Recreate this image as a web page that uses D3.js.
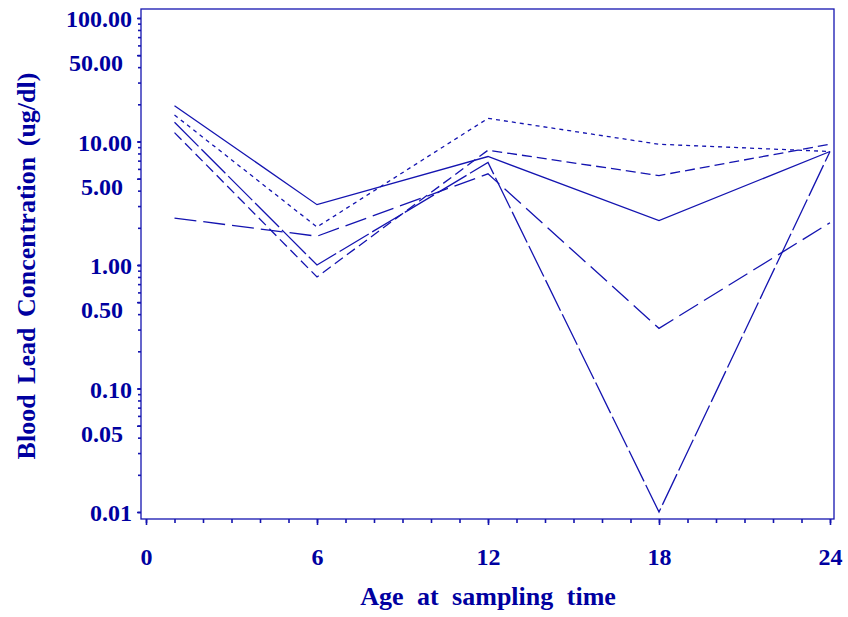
<!DOCTYPE html>
<html>
<head>
<meta charset="utf-8">
<script src="https://cdn.jsdelivr.net/npm/d3@7"></script>
<style>
  body { margin: 0; background: #fff; }
  text { font-family: 'Liberation Serif', serif; font-weight: bold; fill: #0000a0; }
</style>
</head>
<body>
<div id="chart"></div>
<script>
// Sampling ages (months) and blood lead values per child
const ages = [ 1, 6, 12, 18, 24 ];
const lead1 = [ 19.5, 3.08, 7.56, 2.29, 8.3 ];
const lead2 = [ 16.4, 2.03, 15.4, 9.5, 8.3 ];
const lead3 = [ 14.3, 1.0, 6.76, 0.01, 8.3 ];
const lead4 = [ 11.8, 0.80, 8.5, 5.3, 9.5 ];
const lead5 = [ 2.4, 1.71, 5.47, 0.307, 2.2 ];

const xTickValues = [ 0, 6, 12, 18, 24 ];
const yTickValues = [ 0.01, 0.05, 0.1, 0.5, 1, 5, 10, 50, 100 ];

const allSeries = [ lead1, lead2, lead3, lead4, lead5 ];
const dashes = [ null, '4,4', '34,4', '10,5', '22,7' ];

const blue = '#1414b0';

// Define the dimensions and margins of the graph
const margin = { top: 9, right: 14, bottom: 98, left: 141 },
    width = 848 - margin.left - margin.right,
    height = 617 - margin.top - margin.bottom;

const svg = d3.select( 'div#chart' )
  .append( 'svg' )
    .attr( 'width', 848 )
    .attr( 'height', 617 )
    .append( 'g' )
      .attr( 'transform', 'translate( ' + margin.left + ', ' + margin.top + ' )' );

// Scales: the x range starts a few px inside the frame, log scale for y
const xScale = d3.scaleLinear()
    .domain( [0, 24] )
    .range( [5, width - 4] );
const yScale = d3.scaleLog()
    .domain( [0.01, 100] )
    .range( [height - 7, 9] );

// Frame
svg.append( 'rect' )
    .attr( 'width', width )
    .attr( 'height', height )
    .attr( 'fill', 'none' )
    .attr( 'stroke', blue )
    .attr( 'stroke-width', 1.3 );

// X axis: minor ticks every month, labelled every 6
const xMinor = d3.range( 0, 25 );
svg.append( 'g' )
    .attr( 'transform', 'translate( 0, ' + height + ' )' )
    .call( d3.axisBottom( xScale ).tickValues( xMinor ).tickSize( 4 ).tickFormat( '' ) )
    .call( function( g ){ g.select( '.domain' ).remove(); } );
const xAxis = svg.append( 'g' )
    .attr( 'transform', 'translate( 0, ' + height + ' )' )
    .call( d3.axisBottom( xScale ).tickValues( xTickValues ).tickSize( 6 ).tickPadding( 23 ) );
xAxis.select( '.domain' ).remove();
xAxis.selectAll( 'text' ).style( 'font-size', '24px' ).attr( 'fill', '#0000a0' );

// Y axis: minor ticks at 2..9 of each decade
const yMinor = [];
[ 0.01, 0.1, 1, 10 ].forEach( function( d ){
  for ( let k = 1; k <= 10; k++ ) yMinor.push( d * k );
});
svg.append( 'g' )
    .call( d3.axisLeft( yScale ).tickValues( yMinor ).tickSize( 3 ).tickFormat( '' ) )
    .call( function( g ){ g.select( '.domain' ).remove(); } );
const yAxis = svg.append( 'g' )
    .call( d3.axisLeft( yScale ).tickValues( yTickValues ).tickSize( 4 ).tickFormat( d3.format( '.2f' ) ) );
yAxis.select( '.domain' ).remove();
// the 5-multiples are set a little lower and further in, as in the original
yAxis.selectAll( 'text' )
    .style( 'font-size', '24px' )
    .attr( 'fill', '#0000a0' )
    .attr( 'x', function( d ){ return String( d ).indexOf( '5' ) >= 0 ? -18 : -9; } )
    .attr( 'dy', function( d ){ return String( d ).indexOf( '5' ) >= 0 ? '0.64em' : '0.36em'; } );

svg.selectAll( '.tick line' ).attr( 'stroke', blue ).attr( 'stroke-width', 1.6 );

// Lines
const line = d3.line()
    .x( function( d, i ){ return xScale( ages[i] ); } )
    .y( function( d ){ return yScale( d ); } );

svg.selectAll( 'path.series' )
    .data( allSeries )
    .enter()
    .append( 'path' )
      .attr( 'class', 'series' )
      .attr( 'd', line )
      .attr( 'fill', 'none' )
      .attr( 'stroke', blue )
      .attr( 'stroke-width', 1.3 )
      .attr( 'stroke-dasharray', function( d, i ){ return dashes[i]; } );

// Axis titles
svg.append( 'text' )
    .attr( 'x', xScale( 12 ) )
    .attr( 'y', height + 86 )
    .attr( 'text-anchor', 'middle' )
    .style( 'font-size', '26px' )
    .style( 'word-spacing', '7px' )
    .text( 'Age at sampling time' );

svg.append( 'text' )
    .attr( 'transform', 'translate( ' + ( 35 - margin.left ) + ', ' + ( 266 - margin.top ) + ' ) rotate( -90 )' )
    .attr( 'text-anchor', 'middle' )
    .style( 'font-size', '26px' )
    .style( 'word-spacing', '4px' )
    .text( 'Blood Lead Concentration (ug/dl)' );
</script>
</body>
</html>
